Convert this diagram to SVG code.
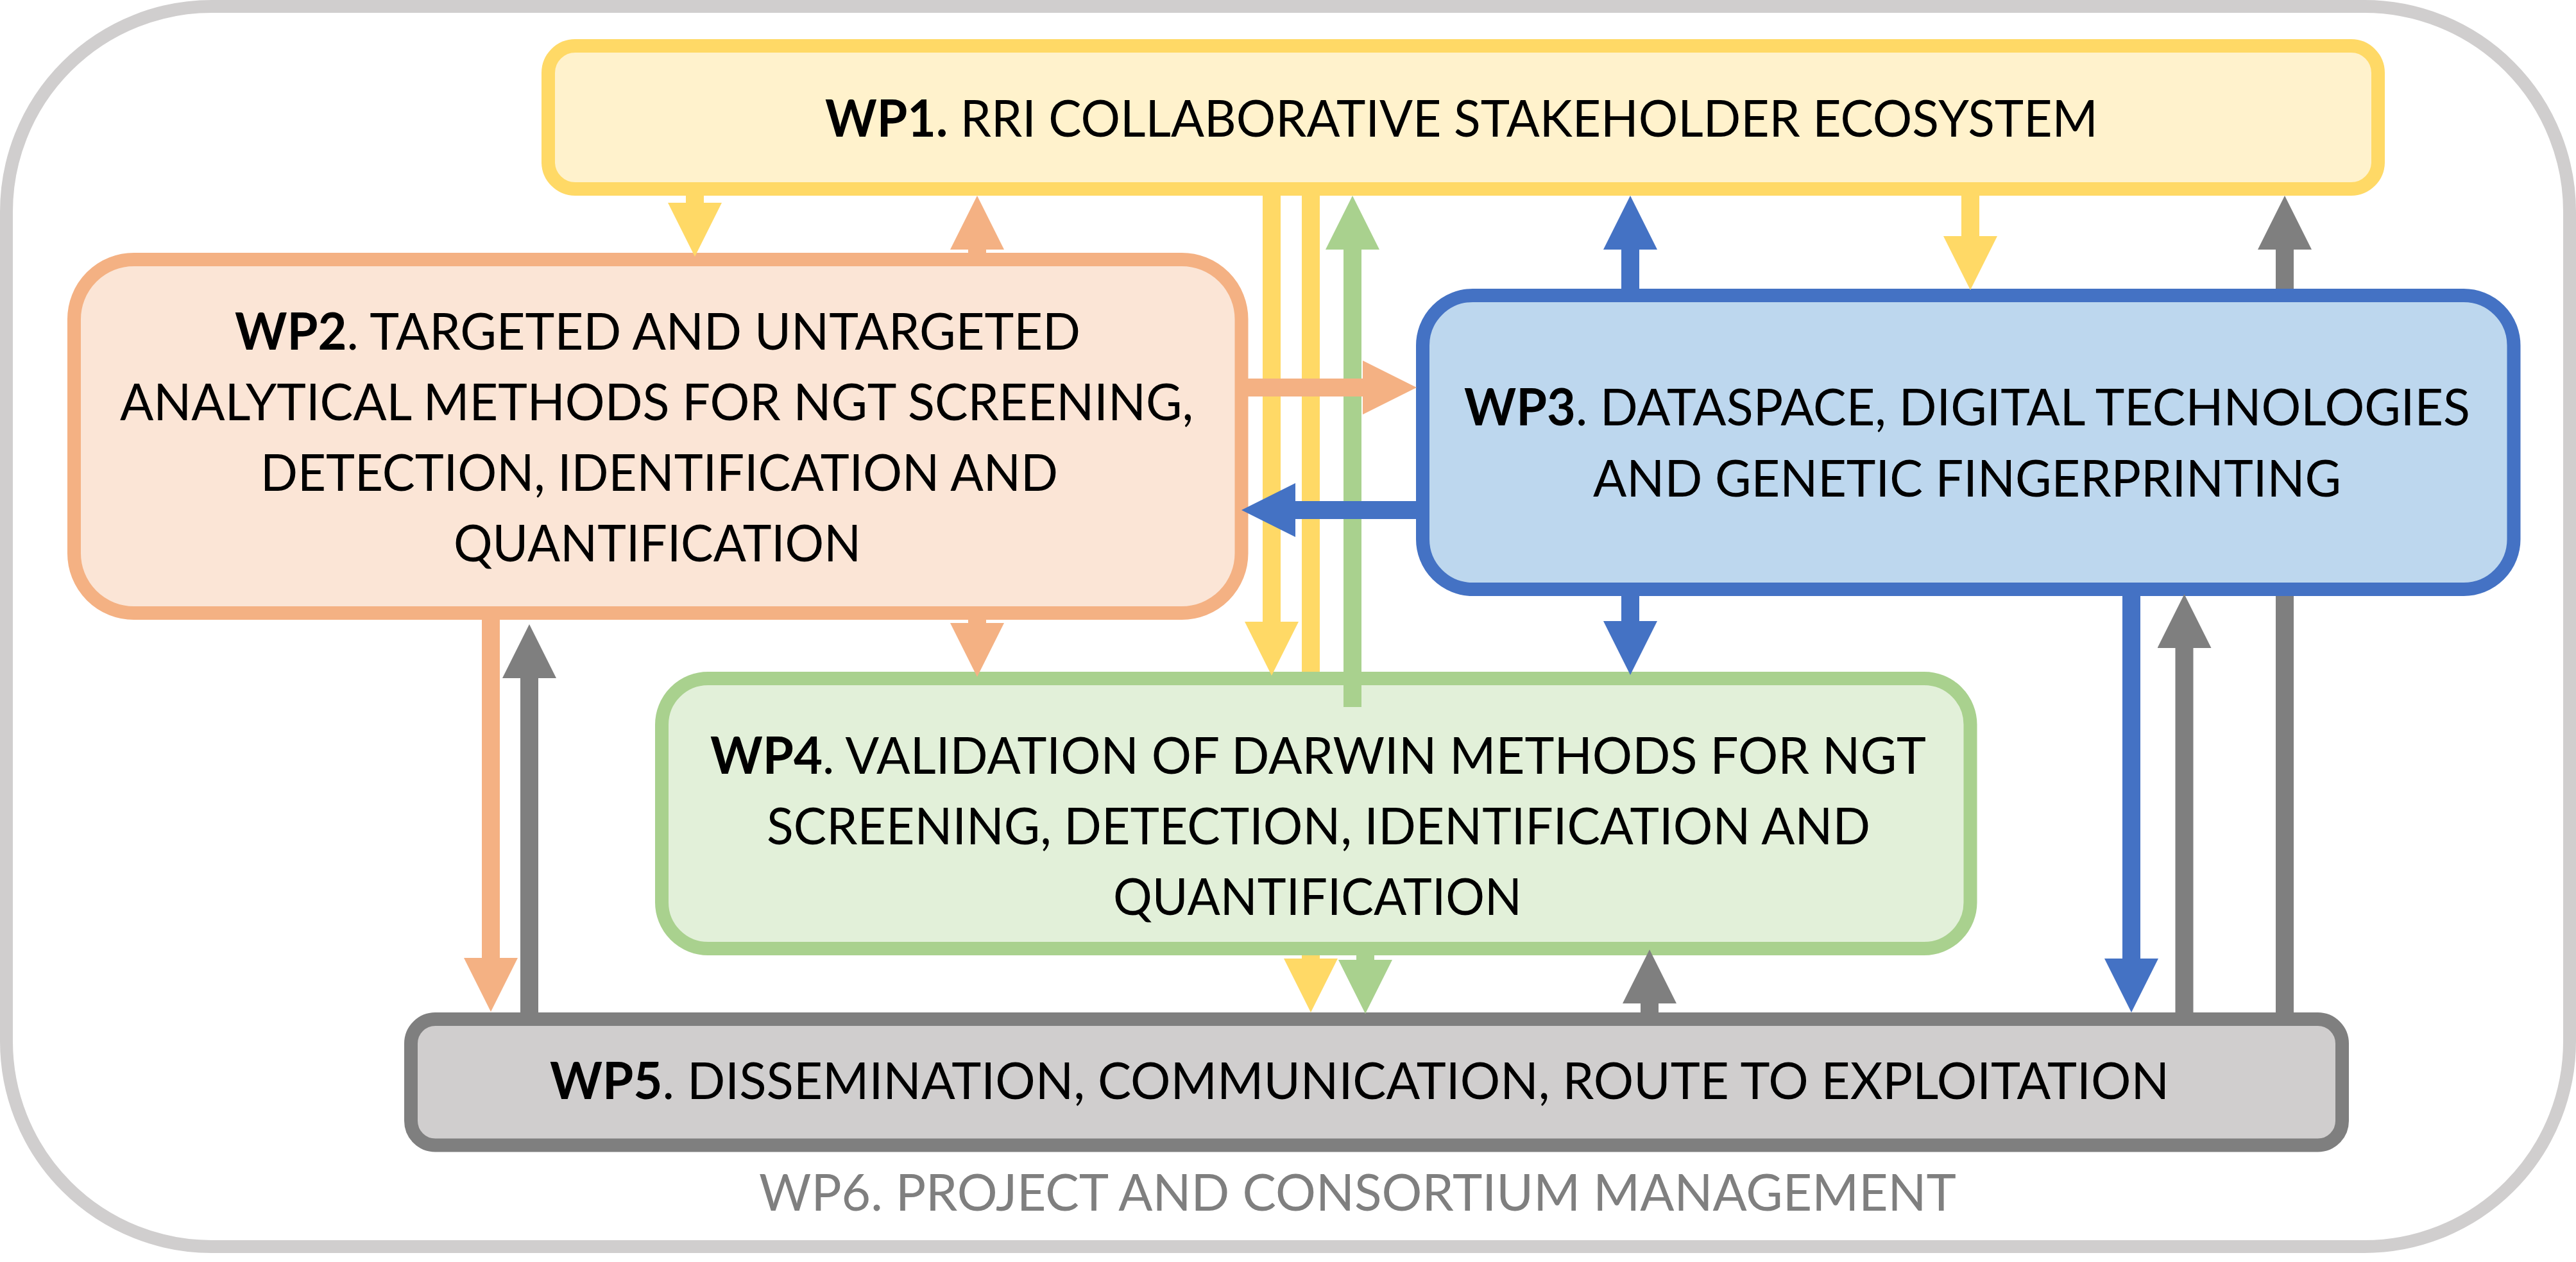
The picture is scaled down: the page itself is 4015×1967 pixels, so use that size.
<svg xmlns="http://www.w3.org/2000/svg" width="4015" height="1967" viewBox="0 0 4015 1967">
<style>
.box{stroke-width:21}
.t{font-family:Lato,"Open Sans","Liberation Sans",sans-serif;font-size:80px;fill:#000}
.b{font-weight:700}
.c{fill:none;stroke-width:28}
</style>
<defs>
<marker id="mY" viewBox="0 0 3 3" refX="0" refY="1.5" markerWidth="3" markerHeight="3" orient="auto" markerUnits="strokeWidth"><path d="M0,0L3,1.5L0,3z" fill="#FFD966"/></marker>
<marker id="mO" viewBox="0 0 3 3" refX="0" refY="1.5" markerWidth="3" markerHeight="3" orient="auto" markerUnits="strokeWidth"><path d="M0,0L3,1.5L0,3z" fill="#F4B183"/></marker>
<marker id="mB" viewBox="0 0 3 3" refX="0" refY="1.5" markerWidth="3" markerHeight="3" orient="auto" markerUnits="strokeWidth"><path d="M0,0L3,1.5L0,3z" fill="#4472C4"/></marker>
<marker id="mG" viewBox="0 0 3 3" refX="0" refY="1.5" markerWidth="3" markerHeight="3" orient="auto" markerUnits="strokeWidth"><path d="M0,0L3,1.5L0,3z" fill="#A9D18E"/></marker>
<marker id="mK" viewBox="0 0 3 3" refX="0" refY="1.5" markerWidth="3" markerHeight="3" orient="auto" markerUnits="strokeWidth"><path d="M0,0L3,1.5L0,3z" fill="#7F7F7F"/></marker>
</defs>
<rect width="4015" height="1967" fill="#FFFFFF"/>
<g id="wp6">
<rect x="10" y="10" width="3995" height="1933" rx="320" ry="320" fill="#FFFFFF" stroke="#D0CECE" stroke-width="20"/>
<text class="t" x="1183" y="1887" textLength="1866" lengthAdjust="spacingAndGlyphs" style="fill:#7F7F7F">WP6. PROJECT AND CONSORTIUM MANAGEMENT</text>
</g>
<g id="wp1">
<rect class="box" x="854.5" y="71.5" width="2852" height="223" rx="42" fill="#FFF2CC" stroke="#FFD966"/>
<text class="t" x="1286" y="213" textLength="1984" lengthAdjust="spacingAndGlyphs"><tspan class="b">WP1.</tspan> RRI COLLABORATIVE STAKEHOLDER ECOSYSTEM</text>
</g>
<g id="wp2">
<rect class="box" x="115.5" y="404.5" width="1819.5" height="551" rx="93" fill="#FBE5D6" stroke="#F4B183"/>
<text class="t" x="366" y="545" textLength="1318" lengthAdjust="spacingAndGlyphs"><tspan class="b">WP2</tspan>. TARGETED AND UNTARGETED</text>
<text class="t" x="187" y="654.5" textLength="1673" lengthAdjust="spacingAndGlyphs">ANALYTICAL METHODS FOR NGT SCREENING,</text>
<text class="t" x="406" y="765" textLength="1243" lengthAdjust="spacingAndGlyphs">DETECTION, IDENTIFICATION AND</text>
<text class="t" x="707" y="875" textLength="635" lengthAdjust="spacingAndGlyphs">QUANTIFICATION</text>
</g>
<g id="wp3">
<rect class="box" x="2217.5" y="460.5" width="1700.5" height="458" rx="78" fill="#BDD7EE" stroke="#4472C4"/>
<text class="t" x="2282" y="663" textLength="1568" lengthAdjust="spacingAndGlyphs"><tspan class="b">WP3</tspan>. DATASPACE, DIGITAL TECHNOLOGIES</text>
<text class="t" x="2483" y="774" textLength="1166" lengthAdjust="spacingAndGlyphs">AND GENETIC FINGERPRINTING</text>
</g>
<g id="wp4">
<rect class="box" x="1031.5" y="1057.5" width="2039.5" height="421" rx="72" fill="#E2F0D9" stroke="#A9D18E"/>
<text class="t" x="1107" y="1206" textLength="1895" lengthAdjust="spacingAndGlyphs"><tspan class="b">WP4</tspan>. VALIDATION OF DARWIN METHODS FOR NGT</text>
<text class="t" x="1195" y="1316" textLength="1720" lengthAdjust="spacingAndGlyphs">SCREENING, DETECTION, IDENTIFICATION AND</text>
<text class="t" x="1735" y="1425.5" textLength="637" lengthAdjust="spacingAndGlyphs">QUANTIFICATION</text>
</g>
<g id="wp5">
<rect class="box" x="640.5" y="1588.5" width="3010" height="196.5" rx="38" fill="#D0CECE" stroke="#7F7F7F"/>
<text class="t" x="857" y="1712.5" textLength="2524" lengthAdjust="spacingAndGlyphs"><tspan class="b">WP5</tspan>. DISSEMINATION, COMMUNICATION, ROUTE TO EXPLOITATION</text>
</g>
<g id="connectors">
<path class="c" stroke="#FFD966" marker-end="url(#mY)" d="M1083 305V316"/>
<path class="c" stroke="#F4B183" marker-end="url(#mO)" d="M1523 394V389"/>
<path class="c" stroke="#FFD966" marker-end="url(#mY)" d="M1982 305V969"/>
<path class="c" stroke="#FFD966" marker-end="url(#mY)" d="M2043 305V1047M2043 1489V1494"/>
<path class="c" stroke="#A9D18E" marker-end="url(#mG)" d="M2108 1102V389"/>
<path class="c" stroke="#A9D18E" marker-end="url(#mG)" d="M2128 1489V1496"/>
<path class="c" stroke="#4472C4" marker-end="url(#mB)" d="M2541 450V389"/>
<path class="c" stroke="#FFD966" marker-end="url(#mY)" d="M3071 305V368"/>
<path class="c" stroke="#7F7F7F" marker-end="url(#mK)" d="M3561 1578V929M3561 450V389"/>
<path class="c" stroke="#F4B183" marker-end="url(#mO)" d="M1523 966V971"/>
<path class="c" stroke="#4472C4" marker-end="url(#mB)" d="M2541 929V968"/>
<path class="c" stroke="#7F7F7F" marker-end="url(#mK)" d="M2571 1578V1564"/>
<path class="c" stroke="#4472C4" marker-end="url(#mB)" d="M3322 929V1494"/>
<path class="c" stroke="#7F7F7F" marker-end="url(#mK)" d="M3404.5 1578V1010"/>
<path class="c" stroke="#F4B183" marker-end="url(#mO)" d="M765 966V1493"/>
<path class="c" stroke="#7F7F7F" marker-end="url(#mK)" d="M825 1578V1057"/>
<path class="c" stroke="#F4B183" marker-end="url(#mO)" d="M1945 604H2124"/>
<path class="c" stroke="#4472C4" marker-end="url(#mB)" d="M2207 795H2019"/>
</g>
</svg>
